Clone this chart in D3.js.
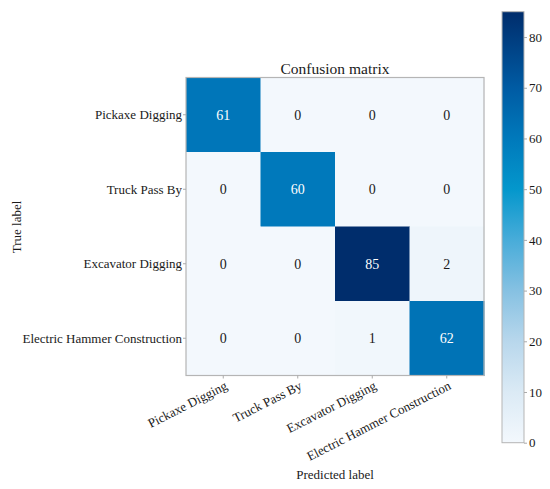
<!DOCTYPE html>
<html><head><meta charset="utf-8">
<script src="https://cdn.jsdelivr.net/npm/d3@7"></script>
<style>html,body{margin:0;padding:0;background:#fff;}svg{display:block;font-family:"Liberation Serif","Times New Roman",serif;}</style>
</head><body>
<svg id="c" width="550" height="489"></svg>
<script>
const classes = ["Pickaxe Digging","Truck Pass By","Excavator Digging","Electric Hammer Construction"];
const matrix = [
  [61,0,0,0],
  [0,60,0,0],
  [0,0,85,2],
  [0,0,1,62]
];
const colorbarTicks = [0,10,20,30,40,50,60,70,80];
const colorStops = [0,10,20,30,40,50,60,70,85];
const colorValues = ["#f3f8fd","#dbeaf5","#b8d7ec","#86c1e2","#48acd9","#0497cc","#0079bb","#005ba3","#002d6c"];

const svg = d3.select("#c");
const mLeft = 186, mTop = 77.5, size = 298;
const x = d3.scaleBand().domain(d3.range(4)).range([mLeft, mLeft+size]);
const y = d3.scaleBand().domain(d3.range(4)).range([mTop, mTop+size]);
const color = d3.scaleLinear().domain(colorStops).range(colorValues).interpolate(d3.interpolateRgb);
const vmax = 85;
const ink = "#1a1a1a";

const cells = [];
matrix.forEach((row,i)=>row.forEach((v,j)=>cells.push({i,j,v})));

svg.append("g").selectAll("rect").data(cells).join("rect")
  .attr("x",d=>x(d.j)).attr("y",d=>y(d.i))
  .attr("width",x.bandwidth()+0.5).attr("height",y.bandwidth()+0.5)
  .attr("fill",d=>color(d.v));

svg.append("g").selectAll("text").data(cells).join("text")
  .attr("x",d=>x(d.j)+x.bandwidth()/2).attr("y",d=>y(d.i)+y.bandwidth()/2)
  .attr("dy","0.35em").attr("text-anchor","middle")
  .attr("font-size",14)
  .attr("fill",d=>d.v>vmax/2?"#fff":ink)
  .text(d=>d.v);

svg.append("rect").attr("x",mLeft).attr("y",mTop).attr("width",size).attr("height",size)
  .attr("fill","none").attr("stroke","#b5b5b5").attr("stroke-width",1.2);

// y axis
const yg = svg.append("g");
classes.forEach((c,i)=>{
  const cy = y(i)+y.bandwidth()/2;
  yg.append("line").attr("x1",mLeft-3).attr("x2",mLeft).attr("y1",cy).attr("y2",cy).attr("stroke","#aaa");
  yg.append("text").attr("x",mLeft-4).attr("y",cy).attr("dy","0.35em").attr("text-anchor","end")
    .attr("font-size",13).attr("fill",ink).text(c);
});
// x axis
const xg = svg.append("g");
classes.forEach((c,j)=>{
  const cx = x(j)+x.bandwidth()/2;
  xg.append("line").attr("x1",cx).attr("x2",cx).attr("y1",mTop+size).attr("y2",mTop+size+3).attr("stroke","#aaa");
  xg.append("text").attr("transform",`translate(${cx+3},${mTop+size+9}) rotate(-27)`)
    .attr("text-anchor","end").attr("dy","0.35em")
    .attr("font-size",13).attr("fill",ink).text(c);
});

svg.append("text").attr("x",mLeft+size/2).attr("y",74).attr("text-anchor","middle")
  .attr("font-size",15.5).attr("fill",ink).text("Confusion matrix");
svg.append("text").attr("x",335).attr("y",479).attr("text-anchor","middle")
  .attr("font-size",13).attr("fill",ink).text("Predicted label");
svg.append("text").attr("transform","translate(21,227) rotate(-90)").attr("text-anchor","middle")
  .attr("font-size",13).attr("fill",ink).text("True label");

// colorbar
const cbX = 502, cbW = 22;
const cbScale = d3.scaleLinear().domain([0,vmax]).range([442.7,11.7]);
const defs = svg.append("defs");
const grad = defs.append("linearGradient").attr("id","cbg").attr("x1",0).attr("y1",1).attr("x2",0).attr("y2",0);
colorStops.forEach((s,k)=>grad.append("stop").attr("offset",s/vmax).attr("stop-color",colorValues[k]));
svg.append("rect").attr("x",cbX).attr("y",cbScale(vmax)).attr("width",cbW).attr("height",cbScale(0)-cbScale(vmax))
  .attr("fill","url(#cbg)").attr("stroke","#b5b5b5").attr("stroke-width",1);
const cbAxis = d3.axisRight(cbScale).tickValues(colorbarTicks).tickSize(3).tickPadding(2);
const cbg = svg.append("g").attr("transform",`translate(${cbX+cbW},0)`).call(cbAxis);
cbg.attr("font-family",null);
cbg.select(".domain").remove();
cbg.selectAll("line").attr("stroke","#aaa");
cbg.selectAll("text").attr("font-size",13).attr("fill",ink);
</script>
</body></html>
